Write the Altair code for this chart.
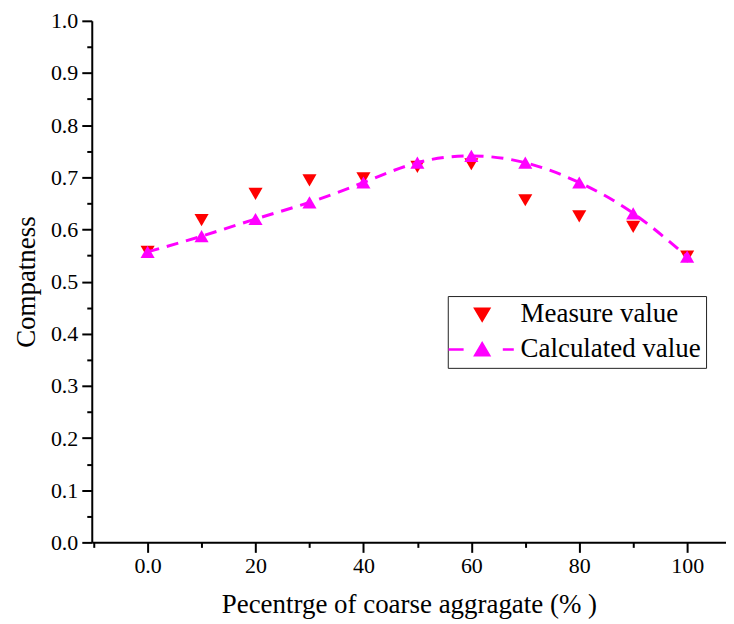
import altair as alt
import pandas as pd

pct = [0, 10, 20, 30, 40, 50, 60, 70, 80, 90, 100]
measured = [0.557, 0.618, 0.668, 0.694, 0.698, 0.720, 0.725, 0.656, 0.625, 0.605, 0.548]
calculated = [0.557, 0.587, 0.620, 0.652, 0.690, 0.728, 0.741, 0.728, 0.690, 0.631, 0.548]
series = ["Measure value", "Calculated value"]
colors = ["#FF0000", "#FF00FF"]
shapes = ["triangle-down", "triangle-up"]
# legend glyphs: plain triangle for measured, dashed line through triangle for calculated
legend_shapes = ["M-1,-0.85L1,-0.85L0,0.85Z",
                 "M-4.9,0H-2.7M-1,0.85L0,-0.85L1,0.85ZM3.0,0H4.6"]

x_ticks = list(range(-10, 110, 10))
y_ticks = [round(i * 0.05, 2) for i in range(0, 21)]

meas_df = pd.DataFrame({"pct": pct, "val": measured, "series": series[0]})
calc_df = pd.DataFrame({"pct": pct, "val": calculated, "series": series[1]})
df = pd.concat([meas_df, calc_df], ignore_index=True)

FONT = "'Times New Roman', 'Liberation Serif', serif"

xscale = alt.Scale(domain=[-10.35, 107.2], nice=False, zero=False)
yscale = alt.Scale(domain=[0, 1], nice=False)

xaxis = alt.Axis(
    title="Pecentrge of coarse aggragate (% )",
    values=x_ticks,
    labelExpr="datum.value % 20 == 0 ? (datum.value == 0 ? '0.0' : datum.label) : ''",
    tickSize={"condition": {"test": "datum.value % 20 == 0", "value": 10}, "value": 5},
    grid=False,
    labelFlush=False,
    labelPadding=3,
    titlePadding=15,
)
yaxis = alt.Axis(
    title="Compatness",
    values=y_ticks,
    labelExpr="round(datum.value * 100) % 10 == 0 ? format(datum.value, '.1f') : ''",
    tickSize={"condition": {"test": "round(datum.value * 100) % 10 == 0", "value": 10}, "value": 5},
    grid=False,
    labelFlush=False,
    labelPadding=4,
    titlePadding=10,
)

legend = alt.Legend(title=None, orient="none", legendX=357, legendY=276,
                    strokeColor="#222222", padding=5, symbolSize=190,
                    symbolStrokeWidth=2.5,
                    labelFontSize=27, labelFont=FONT, rowPadding=7,
                    symbolOffset=16, labelOffset=25, labelLimit=400,
                    cornerRadius=0, fillColor="white")

X = alt.X("pct:Q", scale=xscale, axis=xaxis)
Y = alt.Y("val:Q", scale=yscale, axis=yaxis)

meas_pts = alt.Chart(meas_df).mark_point(
    filled=True, size=200, opacity=1, shape=shapes[0], color=colors[0]
).encode(x=X, y=Y)

line = alt.Chart(calc_df).mark_line(
    color=colors[1], strokeWidth=3, strokeDash=[12, 8], interpolate="natural"
).encode(x=X, y=Y)

calc_pts = alt.Chart(calc_df).mark_point(
    filled=True, size=200, opacity=1, shape=shapes[1], color=colors[1]
).encode(x=X, y=Y)

legend_layer = alt.Chart(df).transform_filter("false").mark_point(
    filled=True, opacity=1
).encode(
    x=X, y=Y,
    fill=alt.Fill("series:N", scale=alt.Scale(domain=series, range=colors), legend=legend),
    stroke=alt.Stroke("series:N", scale=alt.Scale(domain=series, range=colors), legend=legend),
    shape=alt.Shape("series:N", scale=alt.Scale(domain=series, range=legend_shapes), legend=legend),
)

chart = alt.layer(meas_pts, line, calc_pts, legend_layer).properties(
    width=636, height=523,
    autosize=alt.AutoSizeParams(type="none"),
    padding={"left": 84, "top": 12, "right": 0, "bottom": 82},
).configure_view(stroke=None).configure_axis(
    domainColor="black", domainWidth=2, tickColor="black", tickWidth=2,
    labelFont=FONT, labelFontSize=22, labelColor="black",
    titleFont=FONT, titleFontSize=27, titleFontWeight="normal", titleColor="black",
)

chart.save("out.html", embed_options={"renderer": "svg", "actions": False})
